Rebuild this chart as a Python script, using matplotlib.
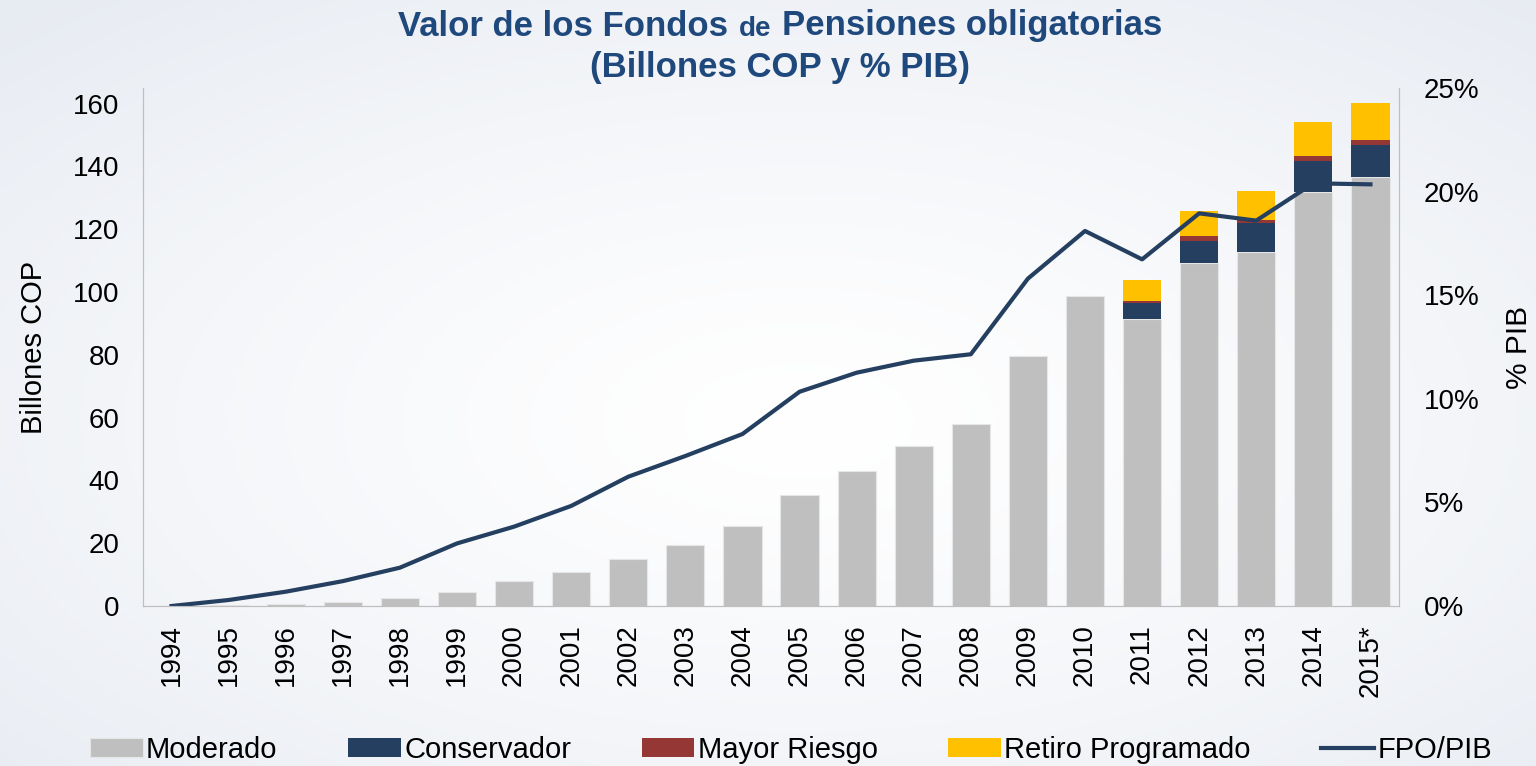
import numpy as np
import matplotlib
matplotlib.use('Agg')
import matplotlib.pyplot as plt
from matplotlib.ticker import FuncFormatter
from matplotlib.offsetbox import TextArea, HPacker, AnchoredOffsetbox

plt.rcParams['font.family'] = ['Liberation Sans', 'DejaVu Sans']

# datos (billones COP y % PIB)
anios = ['1994', '1995', '1996', '1997', '1998', '1999', '2000', '2001', '2002', '2003', '2004',
         '2005', '2006', '2007', '2008', '2009', '2010', '2011', '2012', '2013', '2014', '2015*']
moderado = [0.1, 0.3, 0.6, 1.4, 2.4, 4.4, 7.9, 10.8, 15.1, 19.5, 25.4,
            35.2, 43.1, 50.9, 58.1, 79.7, 98.6, 91.4, 109.4, 112.7, 132.0, 136.6]
conservador = [0] * 17 + [5.1, 7.0, 9.3, 9.9, 10.1]
mayor_riesgo = [0] * 17 + [0.7, 1.3, 1.0, 1.5, 1.6]
retiro = [0] * 17 + [6.5, 8.1, 9.1, 10.9, 11.9]
fpo_pib = [0.0, 0.29, 0.69, 1.2, 1.85, 3.02, 3.83, 4.83, 6.24, 7.24, 8.3,
           10.34, 11.26, 11.84, 12.15, 15.80, 18.10, 16.73, 18.95, 18.6, 20.4, 20.35]

c_mod = '#BFBFBF'
c_con = '#243F60'
c_may = '#953735'
c_ret = '#FFC000'
c_lin = '#243F60'
c_tit = '#1F497D'

fig = plt.figure(figsize=(15.36, 7.66), dpi=100)

# fondo con degradado radial
bg = fig.add_axes([0, 0, 1, 1], zorder=-10)
yy, xx = np.mgrid[0:1:300j, 0:1:600j]
r = np.sqrt(((xx - 0.52) / 0.75) ** 2 + ((yy - 0.45) / 0.75) ** 2)
r = np.clip(r, 0, 1)
c0 = np.array([1.0, 1.0, 1.0])
c1 = np.array([231, 235, 242]) / 255
img = c0 + (c1 - c0) * r[..., None] ** 1.3
bg.imshow(img, aspect='auto', extent=[0, 1, 0, 1], origin='lower')
bg.axis('off')

ax = fig.add_axes([143 / 1536, 1 - 606 / 766, (1399 - 143) / 1536, (606 - 88) / 766])
ax.set_facecolor('none')
x = np.arange(len(anios))
w = 0.67
b1 = np.array(moderado)
b2 = b1 + np.array(conservador)
b3 = b2 + np.array(mayor_riesgo)
ax.bar(x, moderado, w, color=c_mod, edgecolor='#E6E6E6', linewidth=0.8, label='Moderado')
ax.bar(x, conservador, w, bottom=b1, color=c_con, linewidth=0, label='Conservador')
ax.bar(x, mayor_riesgo, w, bottom=b2, color=c_may, linewidth=0, label='Mayor Riesgo')
ax.bar(x, retiro, w, bottom=b3, color=c_ret, linewidth=0, label='Retiro Programado')
ax.set_xlim(-0.5, len(anios) - 0.5)
ax.set_ylim(0, 165)
ax.set_yticks(range(0, 161, 20))
ax.set_xticks(x)
ax.set_xticklabels(anios, rotation=90)
ax.tick_params(axis='y', length=0, labelsize=20, pad=17)
ax.tick_params(axis='x', length=0, labelsize=20, pad=13)
ax.set_ylabel('Billones COP', fontsize=21, labelpad=18)
ax.spines['top'].set_visible(False)
for s in ['left', 'bottom', 'right']:
    ax.spines[s].set_color('#BFBFBF')

ax2 = ax.twinx()
ax2.plot(x, fpo_pib, color=c_lin, linewidth=3, label='FPO/PIB')
ax2.set_ylim(0, 25)
ax2.set_yticks(range(0, 26, 5))
ax2.yaxis.set_major_formatter(FuncFormatter(lambda v, p: f'{v:.0f}%'))
ax2.tick_params(axis='y', length=0, labelsize=20, pad=18)
ax2.set_ylabel('% PIB', fontsize=21.5, labelpad=18)
ax2.spines['top'].set_visible(False)
for s in ['left', 'bottom', 'right']:
    ax2.spines[s].set_color('#BFBFBF')

# leyenda
h1, l1 = ax.get_legend_handles_labels()
h2, l2 = ax2.get_legend_handles_labels()
fig.legend(h1 + h2, l1 + l2, loc='center left', bbox_to_anchor=(90 / 1536, 16 / 766),
           ncol=5, frameon=False, fontsize=21, handlelength=1.8, handleheight=0.6,
           handletextpad=0.12, columnspacing=2.42, borderpad=0, borderaxespad=0)

# titulo (con "de" mas pequeno)
tp = dict(color=c_tit, fontweight='bold', fontsize=25)
tp2 = dict(color=c_tit, fontweight='bold', fontsize=20)
fila = HPacker(children=[TextArea('Valor de los Fondos', textprops=tp),
                         TextArea('de', textprops=tp2),
                         TextArea('Pensiones obligatorias', textprops=tp)],
               align='baseline', pad=0, sep=8)
caja = AnchoredOffsetbox(loc='center', child=fila, pad=0, borderpad=0, frameon=False,
                         bbox_to_anchor=(780 / 1536, 1 - 26 / 766),
                         bbox_transform=fig.transFigure)
fig.add_artist(caja)
fig.text(780 / 1536, 1 - 68 / 766, '(Billones COP y % PIB)', ha='center', va='center', **tp)

fig.savefig('out.png', dpi=100)
